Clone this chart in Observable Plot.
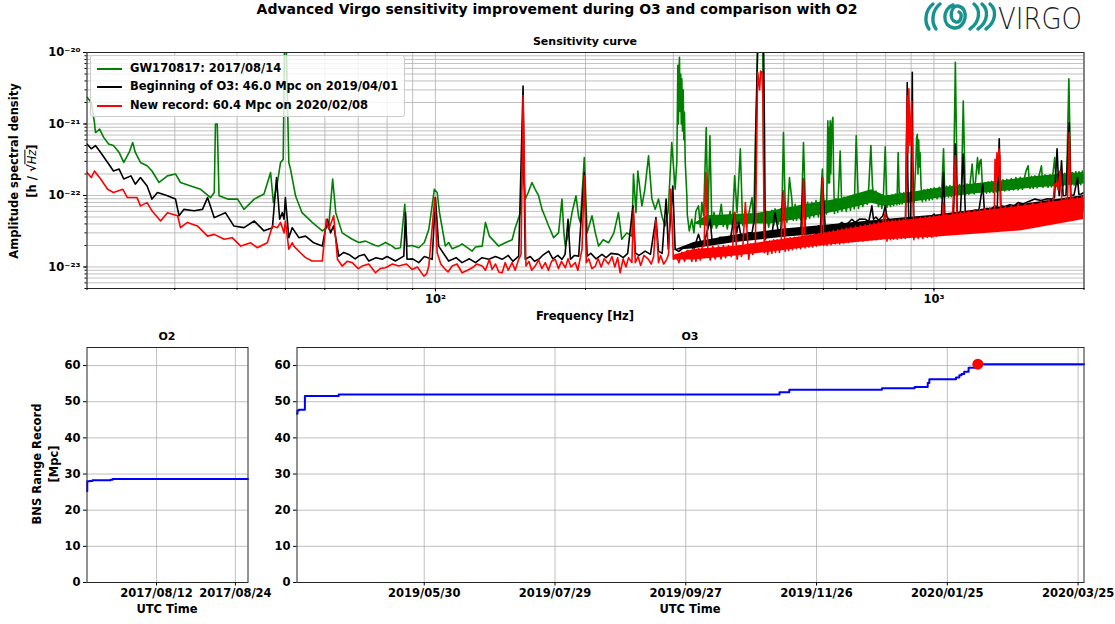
<!DOCTYPE html>
<html><head><meta charset="utf-8">
<script src="https://cdn.jsdelivr.net/npm/d3@7"></script>
<script src="https://cdn.jsdelivr.net/npm/@observablehq/plot@0.6"></script>
<style>
body{margin:0;background:#fff;}
#root{position:relative;width:1115px;height:624px;overflow:hidden;font-family:"DejaVu Sans",sans-serif;font-weight:bold;color:#000;background:#fff;}
</style></head><body><div id="root"></div>
<script>
// ---------------- DATA ----------------
const chartTitle = "Advanced Virgo sensitivity improvement during O3 and comparison with O2";
const legendLabels = ["GW170817: 2017/08/14", "Beginning of O3: 46.0 Mpc on 2019/04/01", "New record: 60.4 Mpc on 2020/02/08"];
const seriesColors = ["#008000", "#000000", "#ff0000"];

// Amplitude spectral density [Hz, h/sqrt(Hz)]
const greenPSD = [
[20.0,2.36e-21],[20.4,2.0e-21],[20.7,1.05e-21],[20.8,7.6e-22],[21.2,8.5e-22],[21.6,6.5e-22],[22.1,5.25e-22],[22.6,5.0e-22],[23.2,4.0e-22],[23.7,2.9e-22],[24.3,4.0e-22],[24.7,5.5e-22],[25.0,4.0e-22],[25.6,2.9e-22],[26.4,2.6e-22],[27.0,2.2e-22],[27.9,1.52e-22],[29.0,1.88e-22],[30.1,2.0e-22],[30.8,1.52e-22],[32.3,1.36e-22],[33.8,1.22e-22],[35.4,9.35e-23],[36.0,1.1e-22],[36.2,1.0e-21],[36.5,1.0e-21],[36.8,9.9e-23],[38.3,8.9e-23],[40.1,8.9e-23],[41.3,6.4e-23],[43.3,8.9e-23],[45.3,1.05e-22],[46.7,2.1e-22],[47.3,8.0e-23],[48.2,1.52e-22],[48.9,2.9e-22],[49.5,3.2e-22],[49.8,1.3e-20],[50.2,1.3e-20],[50.8,2.9e-22],[51.2,2.34e-22],[52.4,9.9e-23],[54.0,5.75e-23],[56.6,4.2e-23],[59.3,3.2e-23],[61.1,3.75e-23],[62.2,1.7e-22],[63.1,5.75e-23],[65.0,3.0e-23],[68.1,2.44e-23],[70.2,2.2e-23],[72.4,2.3e-23],[75.8,2.0e-23],[77.0,1.96e-23],[79.4,2.2e-23],[81.9,1.96e-23],[83.1,1.8e-23],[85.1,1.86e-23],[86.8,7.55e-23],[87.7,1.96e-23],[89.8,2.0e-23],[92.6,1.86e-23],[95.0,2.2e-23],[97.0,3.37e-23],[99.5,1.22e-22],[100.8,1.1e-22],[101.9,5.75e-23],[104.7,1.96e-23],[106.3,2.2e-23],[108.0,1.8e-23],[111.4,1.96e-23],[113.1,2.1e-23],[118.5,1.67e-23],[120.3,1.9e-23],[124.1,1.96e-23],[126.0,4.2e-23],[128.3,2.7e-23],
[133.9,1.96e-23],[138.1,2.18e-23],[142.5,2.4e-23],[144.6,3.55e-23],[148.0,5.75e-23],[149.6,3.2e-22],[151.4,8.9e-23],[153.5,1.1e-22],[156.2,1.52e-22],[158.5,1.22e-22],[161.0,1.0e-22],[163.6,6.4e-23],[166.0,5.0e-23],[168.7,3.75e-23],[172.6,2.57e-23],[176.6,3.0e-23],[179.4,8.9e-23],[181.0,3.0e-23],[182.2,1.96e-23],[185.0,3.0e-23],[187.9,5.75e-23],[191.4,9.9e-23],[193.8,5.0e-23],[195.3,4.2e-23],[198.9,3.4e-22],[201.5,3.0e-23],[206.1,5.2e-23],[209.3,3.0e-23],[212.5,1.96e-23],[217.0,2.4e-23],[222.5,2.18e-23],[228.0,3.0e-23],[232.9,5.75e-23],[236.5,2.44e-23],[242.0,3.0e-23],[247.8,2.7e-23],[249.6,2.0e-22],[252.5,5.75e-23],[254.7,2.2e-22],[259.5,7.15e-23],[263.0,1.2e-22],[267.6,3.6e-22],[271.8,8.9e-23],[276.0,6.4e-23],[280.2,8.9e-23],[285.0,5.0e-23],[288.9,3.75e-23],[293.0,6.0e-23],[297.9,5.5e-22],[302.6,1.22e-22],[305.0,3.0e-22],[306.4,6.6e-21],[307.2,1.0e-21],[308.0,5.0e-21],[308.7,8.6e-21],[309.5,1.5e-21],[310.5,5.0e-21],[311.3,1.0e-21],[312.1,4.3e-21],[313.0,8.0e-22],[314.0,3.0e-21],[315.0,6.0e-22],[315.9,1.46e-21],[317.0,3.0e-22],[319.4,9.9e-23],
[320,5.5e-23],[323,3.2e-23],[326.8,4.65e-23],[330,3.0e-23],[333,6.0e-23],[337.1,7.15e-23],[340,3.6e-23],[342.3,8.0e-23],[345.1,5.2e-23],[349.3,8.95e-22],[352.1,4.65e-23],[355.3,6.85e-22],[358.6,3.5e-23],[362,5.8e-23],[366,3.5e-23],[369.8,4.2e-23],[374.5,7.55e-23],[378,3.7e-23],[381.4,5.2e-23],[385,3.4e-23],[390,6.0e-23],[394,3.8e-23],[398.3,1.88e-22],[402.8,5.75e-23],[408.9,4.5e-22],[413.3,3.8e-23],[418.5,6.0e-23],[421,3.6e-23],[425,5.5e-23],[431.6,9.35e-23],[435,4.0e-23],[438.3,6.2e-22],[441,2.0e-21],[443,1.3e-20],[453.3,1.3e-20],[456.8,3.0e-23],[462,6.0e-23],[466,3.6e-23],[473,6.2e-23],[477,3.8e-23],[480,6.5e-23],[487.6,4.0e-23],[492,6.5e-23],[495,4.2e-23],[499,7.6e-22],[502.9,7.95e-23],[507,4.2e-23],[510,8.0e-23],[513,1.78e-22],[518.7,8.9e-23],[522,4.5e-23],[526.7,7.5e-23],[530,4.5e-23],[534.9,7.0e-23],[540,4.6e-23],[543,7.8e-23],[547.4,5.5e-22],[553.4,4.6e-23],[558,8.0e-23],[563,4.8e-23],[568.8,8.0e-23],[574,5.0e-23],[580,8.5e-23],[586.5,5.0e-23],[592,8.0e-23],[597.4,2.34e-22],[601,5.2e-23],[605,8.4e-23],[609,5.5e-23],[612.6,1.11e-21],[614,1.5e-22],[616,9.0e-22],[617.5,1.5e-22],[619.2,1.11e-21],[621,2.0e-22],[624,1.0e-21],[627,1.24e-21],[629,2.0e-22],[631.6,5.6e-23],[636,9.0e-23],[641,5.8e-23],[648.5,4.2e-22],[653.6,6.0e-23],[660,9.5e-23],[667,6.0e-23],[674.1,9.6e-23],[680,6.2e-23],[686,1.0e-22],[692,6.5e-23],[698.4,6.85e-22],[705.9,6.6e-23],[712,1.05e-22],[720,7.0e-23],[727.9,1.1e-22],[735,7.5e-23],[740,1.3e-22],[747.3,5.0e-22],[752.9,1.36e-22],[758,8.0e-23],[765,1.15e-22],[774.2,7.0e-23],[780,1.0e-22],[786,6.6e-23],[792,1.05e-22],[798.6,4.8e-22],[805,6.8e-23],[811.1,1.0e-22],[818,7.0e-23],[824,1.02e-22],[830,7.2e-23],[837,1.05e-22],[843,7.4e-23],[847.7,4.0e-22],[852.9,7.5e-23],[858,1.08e-22],[863.6,7.6e-23],[870,1.1e-22],[877.1,7.8e-23],[884,1.1e-22],[890,7.8e-23],[900,1.12e-22],[912,8.0e-23],[920,3.0e-22],[923,6.5e-22],[926.1,7.2e-22],[929,2.0e-22],[932,6.0e-22],[935,2.5e-22],[938,4.0e-22],[942,1.4e-22],[948,8.2e-23],[955,1.2e-22],[963,8.4e-23],[970,1.22e-22],[978.2,8.6e-23],[985,1.25e-22],[993,8.8e-23],[1001,1.28e-22],[1015,9.0e-23],[1025,1.3e-22],[1035,9.2e-23],[1045.4,4.5e-22],[1051.6,9.4e-23],[1060,1.35e-22],[1070,9.5e-23],[1077,1.38e-22],[1084,9.6e-23],[1095,1.4e-22],[1104,7.3e-21],[1114,9.8e-23],[1125,1.42e-22],[1135,1.0e-22],[1145,2.1e-21],[1156,1.02e-22],[1165,1.45e-22],[1175,1.04e-22],[1182,1.48e-22],[1193,2.75e-22],[1204,1.05e-22],[1212,1.6e-22],[1223,3.4e-22],[1230,2.0e-22],[1236,3.0e-22],[1243,3.2e-22],[1250,1.5e-22],[1256,1.06e-22],[1265,1.5e-22],[1275,1.08e-22],[1285,1.55e-22],[1295,1.1e-22],[1305,1.58e-22],[1315,1.1e-22],[1325,1.6e-22],[1335,1.12e-22],[1346,1.62e-22],[1360,1.14e-22],[1375,1.66e-22],[1387,1.16e-22],[1400,1.68e-22],[1415,1.18e-22],[1430,1.72e-22],[1445,1.2e-22],[1460,1.78e-22],[1475,1.2e-22],[1490,1.8e-22],[1505,1.22e-22],[1520,1.8e-22],[1530,2.2e-22],[1545,2.6e-22],[1558,1.25e-22],[1570,1.85e-22],[1582,1.26e-22],[1594,1.88e-22],[1610,1.28e-22],[1625,1.9e-22],[1643,2.6e-22],[1655,1.3e-22],[1670,1.95e-22],[1694,1.3e-22],[1710,1.95e-22],[1721,1.32e-22],[1735,2.2e-22],[1747,3.4e-22],[1760,1.34e-22],[1775,2.0e-22],[1790,1.35e-22],[1803,2.05e-22],[1816,1.36e-22],[1830,2.05e-22],[1845,1.38e-22],[1865,4.3e-21],[1882,1.4e-22],[1895,2.1e-22],[1910,1.4e-22],[1925,2.15e-22],[1941,1.42e-22],[1955,2.15e-22],[1970,1.42e-22],[1985,2.2e-22],[2000,1.5e-22]
];

const blackPSD = [
[20.0,5.25e-22],[20.4,4.5e-22],[20.8,5.0e-22],[21.3,4.0e-22],[22.0,2.9e-22],[22.6,2.2e-22],[23.2,2.34e-22],[23.7,1.7e-22],[24.5,1.88e-22],[25.0,1.44e-22],[25.6,1.78e-22],[26.4,1.36e-22],[27.0,8.9e-23],[27.7,1.1e-22],[29.0,9.9e-23],[30.1,8.9e-23],[30.6,5.2e-23],[31.3,6.4e-23],[32.8,6.1e-23],[34.1,6.4e-23],[34.9,9.35e-23],[36.0,4.9e-23],[37.9,5.75e-23],[39.4,3.75e-23],[41.3,3.55e-23],[43.3,4.4e-23],[45.3,3.2e-23],[47.1,3.55e-23],[48.0,1.78e-22],[48.7,4.65e-23],[49.3,5.75e-23],[49.7,4.65e-23],[50.0,9.35e-23],[50.8,2.57e-23],[51.6,3.55e-23],[53.2,2.57e-23],[54.9,2.7e-23],[57.0,2.18e-23],[59.3,1.96e-23],[60.7,4.65e-23],[61.6,3.0e-23],[62.5,3.75e-23],[64.0,1.42e-23],[65.5,1.6e-23],[67.0,1.5e-23],[69.0,1.3e-23],[70.2,1.42e-23],[72.0,1.5e-23],[73.5,1.21e-23],[76.0,1.35e-23],[78.2,1.28e-23],[80.0,1.4e-23],[83.1,1.21e-23],[86.4,1.42e-23],[87.1,5.75e-23],[87.7,1.28e-23],[90.0,1.3e-23],[92.6,1.15e-23],[95.0,1.4e-23],[98.5,1.28e-23],[100.0,9.35e-23],[101.5,1.96e-23],[106.3,1.21e-23],[110.0,1.35e-23],[113.1,1.15e-23],[117.0,1.3e-23],[120.3,1.15e-23],[124.0,1.35e-23],[127.9,1.28e-23],
[132,1.4e-23],[136.1,1.28e-23],[140,1.45e-23],[143,1.2e-23],[146.9,1.42e-23],[149.9,3.4e-21],[151.4,1.28e-23],[155,1.4e-23],[158,1.2e-23],[161.1,1.28e-23],[164,1.45e-23],[168.7,1.67e-23],[172,1.3e-23],[176,1.45e-23],[179.4,1.28e-23],[182,1.5e-23],[184.5,4.65e-23],[186.5,1.28e-23],[190,1.45e-23],[193.8,1.42e-23],[198.9,2.1e-22],[201.5,1.42e-23],[205,1.55e-23],[210,1.3e-23],[215.8,1.5e-23],[220,1.35e-23],[225,1.55e-23],[232.9,1.5e-23],[238,1.35e-23],[243,1.55e-23],[249.0,7.15e-23],[251.7,1.58e-23],[256,1.45e-23],[263.5,1.67e-23],[270,1.5e-23],[276.9,4.9e-23],[280.2,1.67e-23],[285,1.55e-23],[290.2,8.9e-23],[293.2,1.77e-23],[299.3,1.36e-22],[302.6,1.77e-23],[308,1.65e-23],[315,1.9e-23],[324.3,1.96e-23],[330,1.8e-23],[337.1,2.86e-23],[342,2.0e-23],[348,2.5e-23],[355.8,4.65e-23],[358.6,2.44e-23],[365,2.2e-23],[372,2.6e-23],[381.4,2.57e-23],[390,2.3e-23],[398.3,5.75e-23],[402,3.0e-23],[405.8,4.2e-23],[408.9,3.0e-23],[415,2.5e-23],[422,3.0e-23],[431.6,3.0e-23],[437,5.0e-23],[440,1.5e-21],[443.0,1.3e-20],[455.3,1.3e-20],[457,1.0e-21],[458.9,2.44e-23],[465,3.0e-23],[472,2.6e-23],[480.2,5.75e-23],[487.6,3.0e-23],[493,3.3e-23],[498.3,1.1e-22],[502.9,3.0e-23],[510,3.4e-23],[518,3.0e-23],[526.7,3.37e-23],[535,3.1e-23],[541,3.5e-23],[547.4,1.7e-22],[551.6,3.37e-23],[560,3.2e-23],[568,3.6e-23],[576,3.3e-23],[586.5,3.75e-23],[592,3.4e-23],[597.4,1.78e-22],[605,3.75e-23],[615,3.5e-23],[625,3.9e-23],[635,3.6e-23],[653.6,4.2e-23],[665,3.8e-23],[684.6,4.65e-23],[695,4.2e-23],[710,4.7e-23],[727.9,4.65e-23],[740,4.3e-23],[750.8,7.15e-23],[756.4,4.65e-23],[765,5.0e-23],[775,4.5e-23],[790,5.2e-23],[798.6,7.15e-23],[805,5.0e-23],[811,4.7e-23],[824,3.75e-23],[840,4.5e-23],[855,4.2e-23],[863.6,4.4e-23],[877.1,4.7e-23],[884,3.8e-21],[886,2.0e-22],[890.7,3.75e-23],[898,4.0e-23],[904.9,5.3e-21],[907,3.0e-22],[911.6,4.2e-23],[925,4.4e-23],[948,4.65e-23],[965,4.5e-23],[978,4.8e-23],[1001,5.5e-23],[1004.6,4.9e-23],[1020,5.2e-23],[1035,4.9e-23],[1045.4,2.1e-22],[1051.6,5.2e-23],[1065,5.5e-23],[1080,5.2e-23],[1095,5.6e-23],[1104,5.25e-22],[1114,5.5e-23],[1130,5.8e-23],[1145,3.8e-22],[1156,5.75e-23],[1170,6.0e-23],[1190,5.8e-23],[1210,6.2e-23],[1230,6.0e-23],[1253,1.44e-22],[1262,6.4e-23],[1280,6.6e-23],[1300,6.3e-23],[1325,7.15e-23],[1340,6.8e-23],[1352,6.2e-22],[1362,7.15e-23],[1390,7.0e-23],[1420,7.4e-23],[1450,7.2e-23],[1475,7.95e-23],[1510,7.6e-23],[1545,8.2e-23],[1594,8.9e-23],[1640,8.5e-23],[1690,9.0e-23],[1721,8.9e-23],[1745,9.3e-23],[1766,4.5e-22],[1783,9.9e-23],[1803,3.05e-22],[1816,9.9e-23],[1840,1.0e-22],[1868,1.05e-21],[1882,9.9e-23],[1910,1.02e-22],[1941,1.78e-22],[1953,1.04e-22],[1975,1.05e-22],[2000,1.1e-22]
];

const redPSD = [
[20.0,2.1e-22],[20.4,1.78e-22],[20.7,2.2e-22],[21.3,1.7e-22],[22.0,1.22e-22],[22.6,1.1e-22],[23.6,1.22e-22],[24.1,9.35e-23],[25.2,9.35e-23],[25.6,7.15e-23],[26.4,7.95e-23],[27.0,6.1e-23],[28.1,4.4e-23],[29.0,5.75e-23],[30.4,5.2e-23],[30.8,3.55e-23],[31.8,4.2e-23],[33.3,3.75e-23],[34.9,2.7e-23],[36.0,2.86e-23],[37.7,2.44e-23],[39.1,2.57e-23],[40.7,1.96e-23],[42.6,2.18e-23],[43.9,1.86e-23],[46.0,2.18e-23],[47.1,3.75e-23],[48.2,3.55e-23],[48.9,4.2e-23],[49.7,3.0e-23],[50.0,4.4e-23],[50.8,1.77e-23],[51.6,2.18e-23],[52.0,1.96e-23],[53.6,1.58e-23],[54.9,1.35e-23],[56.6,1.21e-23],[59.3,1.21e-23],[60.4,4.65e-23],[61.1,3.37e-23],[62.5,5.2e-23],[63.6,1.28e-23],[65.0,1.03e-23],[66.5,1.2e-23],[68.1,1.15e-23],[70.0,9.5e-24],[71.3,1.03e-23],[73.5,1.1e-23],[75.8,8.3e-24],[77.5,9.5e-24],[79.4,9.75e-24],[82.0,1.1e-23],[84.4,1.03e-23],[87.5,1.1e-23],[89.8,9.25e-24],[92.0,1.0e-23],[94.8,7.45e-24],[96.0,8.0e-24],[97.0,1.03e-23],[99.7,9.35e-23],[100.8,1.58e-23],[102.5,1.1e-23],[104.7,9.25e-24],[106.0,8.5e-24],[108.0,1.03e-23],[110.5,1.1e-23],[113.1,8.3e-24],[116.0,9.0e-24],[118.5,9.75e-24],[121.0,1.1e-23],[124.1,1.03e-23],[126.0,9.0e-24],[128.3,1.28e-23],
[129.9,9.25e-24],[132,1.1e-23],[134,8.5e-24],[136.1,8.3e-24],[138,1.15e-23],[140,9.0e-24],[142.5,1.15e-23],[144.5,9.0e-24],[146.9,1.28e-23],[148.5,1.5e-23],[149.9,2.5e-21],[150.8,2.0e-22],[151.9,1.03e-23],[154,1.2e-23],[156,9.0e-24],[158.5,1.03e-23],[161,1.25e-23],[163.5,9.5e-24],[166.1,1.15e-23],[168.5,9.0e-24],[171,1.2e-23],[173.9,1.28e-23],[176.5,9.5e-24],[179,1.2e-23],[182.2,9.75e-24],[184.5,1.3e-23],[187,1.0e-23],[190.8,1.15e-23],[193,9.0e-24],[196.8,1.77e-23],[198.9,1.88e-22],[200.8,1.15e-23],[203,1.3e-23],[206,9.5e-24],[209.3,1.03e-23],[212,1.3e-23],[215,1.0e-23],[218,1.3e-23],[222.5,1.1e-23],[226,1.4e-23],[229,1.0e-23],[232,1.35e-23],[234.7,8.3e-24],[238,1.3e-23],[241,1.0e-23],[244,1.35e-23],[247.8,1.15e-23],[249.6,6.4e-23],[251.7,1.15e-23],[255,1.4e-23],[258,1.05e-23],[262,1.45e-23],[267.6,1.28e-23],[271,1.1e-23],[274,1.4e-23],[276.9,4.65e-23],[280.2,1.15e-23],[283,1.45e-23],[287,1.1e-23],[291.1,1.28e-23],[293.5,1.5e-23],[296.5,1.22e-22],[300.2,1.28e-23],[304,1.5e-23],[308,1.15e-23],[312,1.6e-23],[316,1.2e-23],[320,1.7e-23],[324.3,1.58e-23],[326.8,1.2e-23],[330,1.8e-23],[333,1.2e-23],[337.1,1.8e-23],[340,1.25e-23],[343,1.9e-23],[346,2.0e-23],[348.7,2.1e-22],[352.1,1.58e-23],[356,1.25e-23],[360,1.95e-23],[364,1.3e-23],[369.8,1.95e-23],[374,1.3e-23],[378,2.0e-23],[382,1.35e-23],[387.3,2.0e-23],[392,1.4e-23],[395,2.0e-23],[398.3,5.75e-23],[402.8,1.28e-23],[407,2.0e-23],[411,1.4e-23],[414,2.1e-23],[418.5,7.95e-23],[425,1.28e-23],[429,2.1e-23],[433,1.5e-23],[438.3,1.96e-23],[441,5.0e-22],[443,5.3e-21],[447,3.0e-21],[449,5.5e-21],[452,5.3e-21],[454,2.0e-21],[456.8,1.58e-23],[460,2.3e-23],[464,1.5e-23],[468,2.3e-23],[473,1.55e-23],[477,2.4e-23],[481,1.6e-23],[485,2.4e-23],[490,1.6e-23],[494,2.45e-23],[499,1.16e-22],[502.9,1.65e-23],[507,2.5e-23],[511,1.7e-23],[515,2.55e-23],[520,1.75e-23],[525,2.6e-23],[530,1.8e-23],[534.9,2.6e-23],[540,1.8e-23],[544,2.7e-23],[547.4,1.7e-22],[551.6,1.85e-23],[556,2.7e-23],[561,1.9e-23],[566,2.8e-23],[571,1.9e-23],[576,2.9e-23],[581,1.95e-23],[586.5,2.9e-23],[591,2.0e-23],[594,3.0e-23],[597.4,1.78e-22],[601,2.0e-23],[605,3.0e-23],[610,2.0e-23],[616,3.1e-23],[622,2.05e-23],[628,3.2e-23],[634,2.1e-23],[641,3.3e-23],[647,2.1e-23],[653.6,3.4e-23],[660,2.15e-23],[667,3.5e-23],[674,2.2e-23],[681,3.6e-23],[688,2.25e-23],[696,3.7e-23],[705.9,2.3e-23],[712,3.8e-23],[720,2.3e-23],[728,3.9e-23],[736,2.35e-23],[744,4.0e-23],[750.8,2.4e-23],[758,4.1e-23],[766,2.4e-23],[774,4.2e-23],[782,2.45e-23],[790,4.3e-23],[798.6,5.75e-23],[805,2.3e-23],[811.1,4.4e-23],[818,2.4e-23],[824,4.5e-23],[830,2.45e-23],[837,4.5e-23],[844,2.45e-23],[852,4.6e-23],[860,2.5e-23],[868,4.6e-23],[876,2.5e-23],[884,2.5e-21],[887,4.0e-22],[890.7,3.1e-21],[895,5.0e-22],[902,2.1e-21],[906,2.0e-22],[911.6,2.4e-23],[920,4.8e-23],[930,2.5e-23],[940,4.9e-23],[950,2.5e-23],[960,5.0e-23],[970,2.6e-23],[980,5.1e-23],[990,2.6e-23],[1000,5.2e-23],[1012,2.7e-23],[1025,5.3e-23],[1035,2.8e-23],[1045.4,7.95e-23],[1051.6,2.9e-23],[1062,5.5e-23],[1075,3.0e-23],[1090,5.7e-23],[1104,3.6e-22],[1114,3.1e-23],[1130,5.8e-23],[1140,3.2e-23],[1150,6.0e-23],[1162,3.2e-23],[1175,6.1e-23],[1190,3.3e-23],[1205,6.3e-23],[1220,3.4e-23],[1235,6.4e-23],[1250,3.5e-23],[1265,6.6e-23],[1280,3.6e-23],[1295,6.7e-23],[1310,3.7e-23],[1322,6.8e-23],[1326,3.2e-22],[1332,1.5e-22],[1338,4.0e-22],[1344,1.8e-22],[1350,4.5e-22],[1356,3.5e-22],[1360,6.8e-23],[1375,3.8e-23],[1390,7.0e-23],[1410,3.9e-23],[1430,7.2e-23],[1450,4.0e-23],[1475,7.4e-23],[1500,4.1e-23],[1525,7.6e-23],[1550,4.3e-23],[1580,7.9e-23],[1610,4.5e-23],[1640,8.2e-23],[1670,4.7e-23],[1700,8.5e-23],[1725,4.9e-23],[1745,1.4e-22],[1761,1.5e-22],[1775,1.2e-22],[1790,2.2e-22],[1805,8.8e-23],[1816,5.2e-23],[1835,9.0e-23],[1850,5.4e-23],[1868,7.6e-22],[1882,5.5e-23],[1900,9.3e-23],[1920,5.7e-23],[1940,9.5e-23],[1960,5.9e-23],[1980,9.7e-23],[2000,6.0e-23]
];

// dense noise-floor envelopes [Hz, low, high]
const greenBand = [[330,4.0e-23,4.0e-23],[350,3.7e-23,5.2e-23],[440,4.0e-23,5.6e-23],[470,4.0e-23,6.0e-23],[550,4.8e-23,7.4e-23],[650,6.1e-23,9.0e-23],[750,7.8e-23,1.2e-22],[800,7.0e-23,9.8e-23],[900,8.0e-23,1.1e-22],[1000,9.0e-23,1.24e-22],[1200,1.05e-22,1.45e-22],[1400,1.16e-22,1.64e-22],[1600,1.28e-22,1.84e-22],[1800,1.35e-22,1.98e-22],[2000,1.45e-22,2.1e-22]];
const blackBand = [[300,1.7e-23,1.7e-23],[330,1.8e-23,2.2e-23],[400,2.2e-23,2.8e-23],[500,2.6e-23,3.4e-23],[600,2.9e-23,3.8e-23],[800,3.4e-23,4.6e-23],[1000,3.9e-23,5.3e-23],[1500,5.2e-23,7.5e-23],[2000,6.5e-23,1.0e-22]];
const redBand = [[300,1.25e-23,1.45e-23],[330,1.25e-23,1.75e-23],[400,1.42e-23,1.95e-23],[500,1.7e-23,2.45e-23],[600,2.0e-23,2.95e-23],[800,2.4e-23,4.2e-23],[1000,2.6e-23,5.0e-23],[1500,3.2e-23,7.1e-23],[2000,4.6e-23,9.3e-23]];

// BNS range record [UTC time, Mpc]
const o2Range = [["2017-08-01T10:00Z",25.3],["2017-08-01T11:00Z",28.0],["2017-08-01T20:00Z",28.1],["2017-08-02T06:00Z",28.3],["2017-08-05T00:00Z",28.4],["2017-08-05T08:00Z",28.6],["2017-08-25T22:00Z",28.6]];
const o3Range = [["2019-04-01T15:00Z",46.7],["2019-04-01T20:00Z",47.6],["2019-04-02T12:00Z",47.8],["2019-04-05T06:00Z",51.6],["2019-04-20T18:00Z",52.0],["2019-11-09T00:00Z",52.6],["2019-11-13T12:00Z",53.3],["2019-12-26T00:00Z",53.7],["2020-01-10T00:00Z",54.1],["2020-01-16T00:00Z",55.2],["2020-01-16T18:00Z",56.2],["2020-01-29T00:00Z",56.7],["2020-01-30T12:00Z",57.3],["2020-01-31T12:00Z",57.7],["2020-02-01T18:00Z",58.3],["2020-02-03T18:00Z",59.4],["2020-02-08T00:00Z",60.4],["2020-03-27T17:00Z",60.4]];
const recordPoint = [["2020-02-08T00:00Z",60.4]];

// axes
const psdXDomain = [20, 2000];
const psdYDomain = [5e-24, 1e-20];
const psdXMajor = [100, 1000];
const psdXGrid = [20,30,40,50,60,70,80,90,100,200,300,400,500,600,700,800,900,1000,2000];
const psdYMajor = [1e-23, 1e-22, 1e-21, 1e-20];
const psdYGrid = [5e-24,6e-24,7e-24,8e-24,9e-24,1e-23,2e-23,3e-23,4e-23,5e-23,6e-23,7e-23,8e-23,9e-23,1e-22,2e-22,3e-22,4e-22,5e-22,6e-22,7e-22,8e-22,9e-22,1e-21,2e-21,3e-21,4e-21,5e-21,6e-21,7e-21,8e-21,9e-21,1e-20];
const rangeTicks = [0,10,20,30,40,50,60];
const o2Domain = ["2017-08-01T10:00Z","2017-08-25T22:00Z"];
const o2Ticks = ["2017-08-12T00:00Z","2017-08-24T00:00Z"];
const o3Domain = ["2019-04-01T15:00Z","2020-03-27T17:00Z"];
const o3Ticks = ["2019-05-30T00:00Z","2019-07-29T00:00Z","2019-09-27T00:00Z","2019-11-26T00:00Z","2020-01-25T00:00Z","2020-03-25T00:00Z"];

// ---------------- RENDER ----------------
const sup = {"-":"\u207B","0":"\u2070","1":"\u00B9","2":"\u00B2","3":"\u00B3","4":"\u2074","5":"\u2075","6":"\u2076","7":"\u2077","8":"\u2078","9":"\u2079"};
const pow10 = v => "10" + String(Math.round(Math.log10(v))).split("").map(c => sup[c]).join("");
const dateFmt = d3.utcFormat("%Y/%m/%d");
const T = s => new Date(s);
const gridStyle = {stroke: "#b0b0b0", strokeOpacity: 1, strokeWidth: 0.8};
const baseStyle = {fontFamily: "DejaVu Sans, sans-serif", fontSize: "11.5px", fontWeight: "bold", color: "#000", background: "transparent", overflow: "visible"};

const psdLine = (data, color) => Plot.line(data, {x: d => d[0], y: d => d[1], stroke: color, strokeWidth: 1.6, clip: true});
const psdBand = (data, color) => Plot.areaY(data, {x: d => d[0], y1: d => d[1], y2: d => d[2], fill: color, clip: true});

const topPlot = Plot.plot({
  width: 1115, height: 330,
  marginLeft: 86.5, marginRight: 31.5, marginTop: 52, marginBottom: 42,
  x: {type: "log", domain: psdXDomain, axis: null},
  y: {type: "log", domain: psdYDomain, axis: null},
  style: baseStyle,
  marks: [
    Plot.gridY({ticks: psdYGrid, ...gridStyle}),
    Plot.gridX({ticks: psdXGrid, ...gridStyle}),
    psdBand(greenBand, seriesColors[0]), psdLine(greenPSD, seriesColors[0]),
    psdBand(blackBand, seriesColors[1]), psdLine(blackPSD, seriesColors[1]),
    psdBand(redBand, seriesColors[2]), psdLine(redPSD, seriesColors[2]),
    Plot.frame({stroke: "#262626", strokeWidth: 1}),
    Plot.axisY({ticks: psdYGrid, tickFormat: () => "", tickSize: 2, label: null}),
    Plot.axisY({ticks: psdYMajor, tickFormat: pow10, tickSize: 3.5, tickPadding: 3, label: null}),
    Plot.axisX({ticks: psdXGrid, tickFormat: () => "", tickSize: 2, label: null}),
    Plot.axisX({ticks: psdXMajor, tickFormat: pow10, tickSize: 3.5, tickPadding: 3, label: null})
  ]
});

const rangePlot = (data, domain, ticks, w, ml, mr, extra) => Plot.plot({
  width: w, height: 324,
  marginLeft: ml, marginRight: mr, marginTop: 47, marginBottom: 42,
  x: {type: "utc", domain: domain.map(T), axis: null},
  y: {domain: [0, 65], axis: null},
  style: baseStyle,
  marks: [
    Plot.gridY({ticks: rangeTicks, ...gridStyle}),
    Plot.gridX({ticks: ticks.map(T), ...gridStyle}),
    Plot.line(data, {x: d => T(d[0]), y: d => d[1], curve: "step-after", stroke: "#0000ff", strokeWidth: 2}),
    ...extra,
    Plot.frame({stroke: "#262626", strokeWidth: 1}),
    Plot.axisY({ticks: rangeTicks, tickSize: 3.5, tickPadding: 3, label: null}),
    Plot.axisX({ticks: ticks.map(T), tickFormat: dateFmt, tickSize: 3.5, tickPadding: 3, label: null})
  ]
});

const o2Plot = rangePlot(o2Range, o2Domain, o2Ticks, 260, 86.5, 12.5, []);
const o3Plot = rangePlot(o3Range, o3Domain, o3Ticks, 855, 36.5, 31.5,
  [Plot.dot(recordPoint, {x: d => T(d[0]), y: d => d[1], r: 5.5, fill: "#ff0000", stroke: "none"})]);

const root = document.getElementById("root");
function put(el, left, top) { el.style.position = "absolute"; el.style.left = left + "px"; el.style.top = top + "px"; root.appendChild(el); }
put(topPlot, 0, 0);
put(o2Plot, 0, 300);
put(o3Plot, 260, 300);

function label(html, cx, cy, size = 11.5, rot = false) {
  const d = document.createElement("div");
  d.innerHTML = html;
  d.style.cssText = `position:absolute;left:${cx}px;top:${cy}px;transform:translate(-50%,-50%)${rot ? " rotate(-90deg)" : ""};font-size:${size}px;font-weight:bold;white-space:nowrap;line-height:1.15;`;
  root.appendChild(d);
}
label(chartTitle, 557, 8.5, 14);
label("Sensitivity curve", 585, 42, 11);
label("Frequency [Hz]", 585, 317);
label("Amplitude spectral density", 15, 171, 11.5, true);
label("[h / √<span style='text-decoration:overline;font-style:italic;font-weight:normal'>Hz</span>]", 33, 171, 11.5, true);
label("O2", 167, 337, 11);
label("O3", 690, 337, 11);
label("BNS Range Record", 38, 464, 11.5, true);
label("[Mpc]", 55, 464, 11.5, true);
label("UTC Time", 167, 610);
label("UTC Time", 690, 610);

// legend
const leg = document.createElement("div");
leg.style.cssText = "position:absolute;left:90px;top:55px;width:315px;height:62px;background:rgba(255,255,255,0.8);border:1px solid #cccccc;border-radius:3px;box-sizing:border-box;";
legendLabels.forEach((t, i) => {
  const cy = 13 + i * 18.4;
  const ln = document.createElement("div");
  ln.style.cssText = `position:absolute;left:6px;top:${cy - 1}px;width:25px;height:2px;background:${seriesColors[i]};`;
  leg.appendChild(ln);
  const tx = document.createElement("div");
  tx.textContent = t;
  tx.style.cssText = `position:absolute;left:39px;top:${cy}px;transform:translateY(-50%);font-size:11.5px;font-weight:bold;white-space:nowrap;line-height:1;`;
  leg.appendChild(tx);
});
root.appendChild(leg);

// VIRGO logo
const logo = document.createElement("div");
logo.innerHTML = `<svg width="190" height="42" xmlns="http://www.w3.org/2000/svg">
<g fill="none" stroke="#17928e" stroke-width="3.4" stroke-linecap="round">
<path d="M12,4 C4,10 3,22 8,29"/>
<path d="M19,4 C11,10 10,22 15,29"/>
<path d="M32,5 C22,8 20,26 33,28 C45,29 49,8 37,6 C30,5 27,20 35,22 C40,23 42,14 38,12"/>
<path d="M53,4 C60,10 59,22 49,29"/>
<path d="M61,4 C68,10 67,22 57,29"/>
<path d="M69,4 C76,10 75,22 65,29"/>
</g>
<text x="77" y="29" font-family="DejaVu Sans" font-weight="200" font-size="28" transform="translate(77,29) scale(1,1.1) translate(-77,-29)" textLength="84" lengthAdjust="spacingAndGlyphs" fill="#1a1a1a">VIRGO</text>
</svg>`;
logo.style.cssText = "position:absolute;left:921px;top:0px;";
root.appendChild(logo);
</script></body></html>
